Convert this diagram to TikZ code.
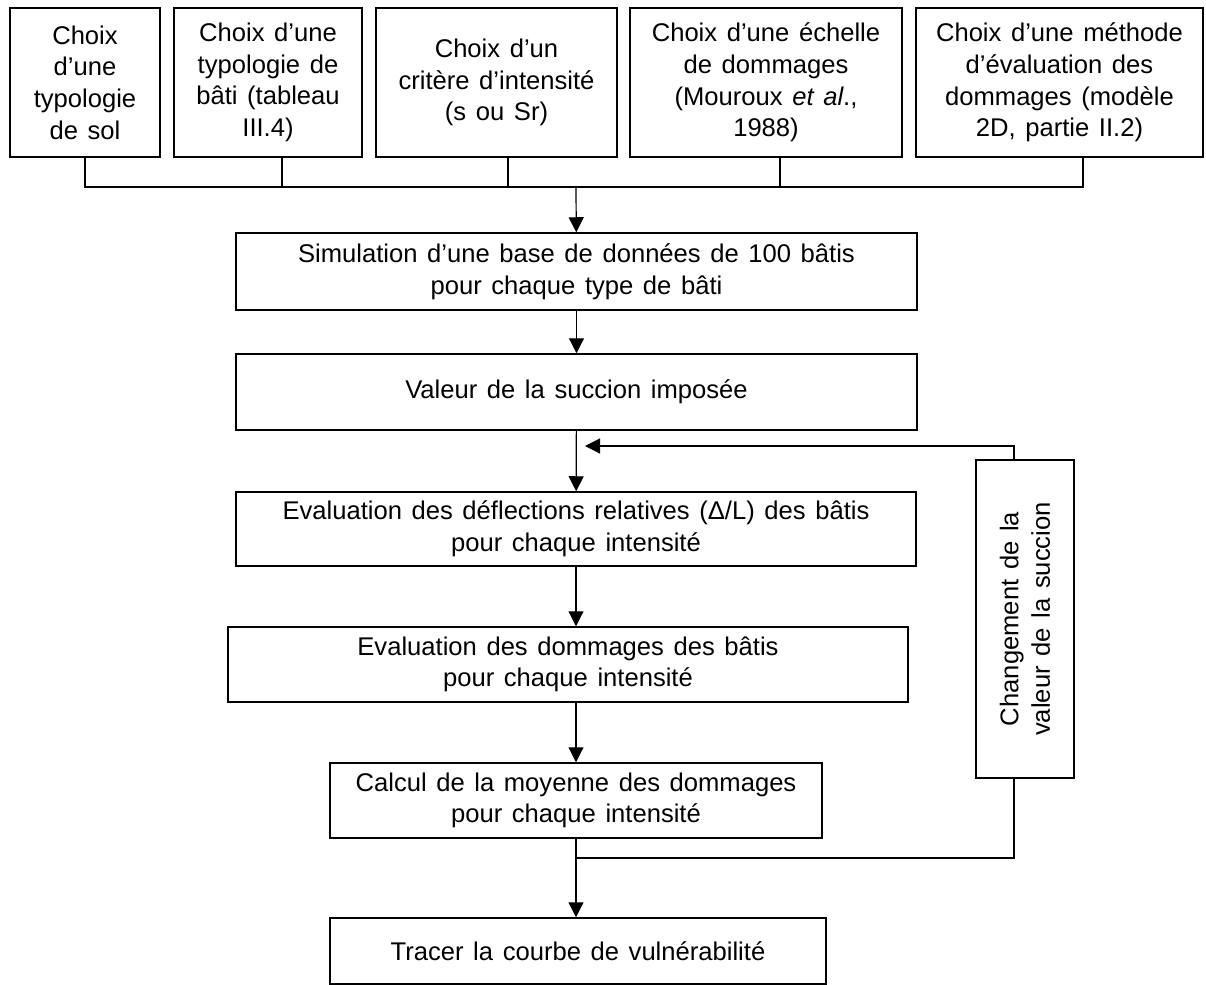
\documentclass[tikz,border=0pt]{standalone}
\usepackage{fontspec}
\setmainfont{Liberation Sans}[WordSpace=1.35]
\usetikzlibrary{arrows.meta,positioning,calc}

\begin{document}
\begin{tikzpicture}[x=0.5pt,y=-0.5pt,font=\fontsize{12.8}{15.8}\selectfont,
  box/.style={draw,line width=0.75pt,align=center,inner sep=0pt},
  link/.style={line width=0.6pt},
  arr/.style={link,-{Triangle[length=7.5pt,width=7.5pt]}}]
  \useasboundingbox (0,0) rectangle (1206,985);
  \node[box,minimum width=75pt,minimum height=74.5pt] (sol) at (85,82.5) {Choix\\d’une\\typologie\\de sol};
  \node[box,minimum width=94pt,minimum height=74.5pt] (bati) at (268,82.5) {Choix d’une\\typologie de\\bâti (tableau\\III.4)};
  \node[box,minimum width=120.5pt,minimum height=74.5pt] (crit) at (496.5,82.5) {Choix d’un\\critère d’intensité\\(s ou Sr)};
  \node[box,minimum width=136pt,minimum height=74.5pt] (echelle) at (766,82.5) {Choix d’une échelle\\de dommages\\(Mouroux \textit{et al}.,\\1988)};
  \node[box,minimum width=143.5pt,minimum height=74.5pt] (methode) at (1059.5,82.5) {Choix d’une méthode\\d’évaluation des\\dommages (modèle\\2D, partie II.2)};
  \coordinate (bus) at (576,187);
  \draw[link] (sol.south) |- (bus);
  \draw[link] ([xshift=7pt]bati.south) |- (bus);
  \draw[link] ([xshift=5.75pt]crit.south) |- (bus);
  \draw[link] ([xshift=7pt]echelle.south) |- (bus);
  \draw[link] ([xshift=11.75pt]methode.south) |- (bus);

  \node[box,minimum width=340.5pt,minimum height=38.5pt] (simu) at (576.5,271.5) {Simulation d’une base de données de 100 bâtis\\pour chaque type de bâti};
  \node[box,minimum width=340.5pt,minimum height=38pt] (succion) at (576.5,392) {Valeur de la succion imposée};
  \node[box,minimum width=340pt,minimum height=37pt] (deflex) at (576,529) {Evaluation des déflections relatives (Δ/L) des bâtis\\pour chaque intensité};
  \node[box,minimum width=340pt,minimum height=37.5pt] (dommages) at (568,664.5) {Evaluation des dommages des bâtis\\pour chaque intensité};
  \node[box,minimum width=246pt,minimum height=37.5pt] (moyenne) at (576,800.5) {Calcul de la moyenne des dommages\\pour chaque intensité};
  \node[box,minimum width=248pt,minimum height=33pt] (courbe) at (578,951) {Tracer la courbe de vulnérabilité};
  \node[box,rotate=90,minimum width=159pt,minimum height=49pt] (change) at (1025,619) {Changement de la\\valeur de la succion};

  \draw[arr] (bus) -- (simu);
  \draw[arr] (simu) -- (succion);
  \draw[arr] (succion) -- (deflex);
  \draw[arr] (deflex.south) -- (deflex.south |- dommages.north);
  \draw[arr] (deflex.south |- dommages.south) -- (moyenne.north);
  \draw[arr] (moyenne.south) -- (moyenne.south |- courbe.north);
  \coordinate (retour) at (585,446);
  \coordinate (jonction) at (576,858);
  \draw[arr] ([xshift=-5.5pt]change.east) |- (retour);
  \draw[link] ([xshift=-5.5pt]change.west) |- (jonction);
\end{tikzpicture}
\end{document}
